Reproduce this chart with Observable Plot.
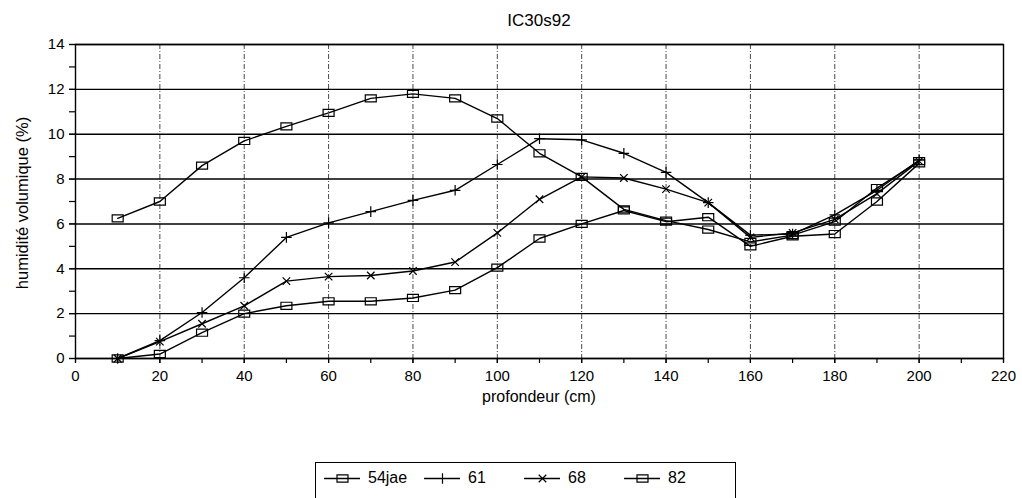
<!DOCTYPE html>
<html><head><meta charset="utf-8">
<script src="https://cdn.jsdelivr.net/npm/d3@7"></script>
<script src="https://cdn.jsdelivr.net/npm/@observablehq/plot@0.6"></script>
<style>
body{margin:0;background:#fff;font-family:"Liberation Sans",Arial,sans-serif;color:#000;}
#wrap{position:relative;width:1022px;height:498px;overflow:hidden;}
#title{position:absolute;left:75px;width:928px;top:11px;text-align:center;font-size:17px;}
#xlabel{position:absolute;left:75px;width:928px;top:388px;text-align:center;font-size:16px;}
#ylabel{position:absolute;left:22px;top:203px;transform:translate(-50%,-50%) rotate(-90deg);white-space:nowrap;font-size:16.5px;}
#chart{position:absolute;left:0;top:0;}
#chart svg text{font-size:15px !important;}
#legend{position:absolute;left:315px;top:462px;width:421px;height:60px;border:1.5px solid #000;box-sizing:border-box;}
.item{position:absolute;top:5px;display:flex;align-items:center;font-size:16px;}
.item svg{margin-right:8px;}
</style>
</head><body>
<div id="wrap">
  <div id="chart"></div>
  <div id="title"></div>
  <div id="xlabel"></div>
  <div id="ylabel"></div>
  <div id="legend"></div>
</div>
<script>
const chartTitle = "IC30s92";
const xLabel = "profondeur (cm)";
const yLabel = "humidité volumique (%)";
const seriesNames = ["54jae", "61", "68", "82"];
const seriesSymbols = ["rect", "plus", "times", "rect"];
const depth = [10,20,30,40,50,60,70,80,90,100,110,120,130,140,150,160,170,180,190,200];
const s54jae = [6.25,7.0,8.6,9.7,10.35,10.95,11.6,11.8,11.6,10.7,9.15,8.1,6.65,6.15,5.75,5.2,5.5,6.1,7.6,8.8];
const s61    = [0,0.8,2.05,3.6,5.4,6.05,6.55,7.05,7.5,8.65,9.8,9.75,9.15,8.3,6.95,5.5,5.55,6.4,7.5,8.85];
const s68    = [0,0.75,1.55,2.35,3.45,3.65,3.7,3.9,4.3,5.6,7.1,8.1,8.05,7.55,6.95,5.4,5.6,6.2,7.35,8.8];
const s82    = [0,0.2,1.15,2.0,2.35,2.55,2.55,2.7,3.05,4.05,5.35,6.0,6.6,6.1,6.3,5.0,5.45,5.55,7.0,8.7];
const xTicks = [0,20,40,60,80,100,120,140,160,180,200,220];
const yTicks = [0,2,4,6,8,10,12,14];

const allValues = [s54jae, s61, s68, s82];
const data = [];
seriesNames.forEach((name, i) => {
  depth.forEach((d, j) => data.push({series: name, depth: d, value: allValues[i][j]}));
});

// wide open rectangle marker (like the original's boxes)
const rectSymbol = {draw(ctx, size) { const s = Math.sqrt(size); ctx.moveTo(-s*0.62, -s*0.4); ctx.lineTo(s*0.62, -s*0.4); ctx.lineTo(s*0.62, s*0.4); ctx.lineTo(-s*0.62, s*0.4); ctx.closePath(); }};
const symOf = s => s === "rect" ? rectSymbol : s;
const rOf = s => s === "rect" ? 5 : 3.5;

const minorY = d3.range(0, 14.5, 1);
const minorX = d3.range(0, 221, 10);
const gridX = xTicks.filter(t => t > 0 && t < 220);

const dotMarks = seriesNames.map((name, i) =>
  Plot.dot(data.filter(d => d.series === name), {x: "depth", y: "value", symbol: symOf(seriesSymbols[i]), stroke: "#000", fill: "none", r: rOf(seriesSymbols[i]), strokeWidth: 1.2})
);

const plot = Plot.plot({
  width: 1022, height: 420,
  marginTop: 44, marginLeft: 75, marginRight: 19, marginBottom: 62,
  style: {fontFamily: '"Liberation Sans", Arial, sans-serif', fontSize: "15px", color: "#000", background: "#fff"},
  x: {domain: [0, 220]},
  y: {domain: [0, 14]},
  marks: [
    Plot.gridY(yTicks, {stroke: "#000", strokeOpacity: 1, strokeWidth: 1.4}),
    Plot.gridX(gridX, {stroke: "#000", strokeOpacity: 0.9, strokeWidth: 0.8, strokeDasharray: "5,2,1,2"}),
    Plot.frame({stroke: "#000", strokeWidth: 1.4}),
    Plot.axisY(minorY, {tickSize: 6, tickFormat: () => "", label: null, strokeWidth: 1.2}),
    Plot.axisY(yTicks, {tickSize: 6, tickPadding: 5, label: null, strokeWidth: 1.2}),
    Plot.axisX(minorX, {tickSize: 5, tickFormat: () => "", label: null, strokeWidth: 1.2}),
    Plot.axisX(xTicks, {tickSize: 5, tickPadding: 7, label: null, strokeWidth: 1.2}),
    Plot.line(data, {x: "depth", y: "value", z: "series", stroke: "#000", strokeWidth: 1.4}),
    ...dotMarks
  ]
});
document.getElementById("chart").appendChild(plot);
document.getElementById("title").textContent = chartTitle;
document.getElementById("xlabel").textContent = xLabel;
document.getElementById("ylabel").textContent = yLabel;

const legend = document.getElementById("legend");
const positions = [8, 108, 208, 308];
seriesNames.forEach((name, i) => {
  const item = document.createElement("div");
  item.className = "item";
  item.style.left = positions[i] + "px";
  const sw = Plot.plot({
    width: 36, height: 20, margin: 0,
    x: {domain: [0, 1], axis: null}, y: {domain: [0, 1], axis: null},
    marks: [
      Plot.line([{x: 0, y: 0.5}, {x: 1, y: 0.5}], {x: "x", y: "y", stroke: "#000", strokeWidth: 1.4}),
      Plot.dot([{x: 0.5, y: 0.5}], {x: "x", y: "y", symbol: symOf(seriesSymbols[i]), stroke: "#000", fill: "none", r: rOf(seriesSymbols[i]), strokeWidth: 1.2})
    ]
  });
  item.appendChild(sw);
  const t = document.createElement("span");
  t.textContent = name;
  item.appendChild(t);
  legend.appendChild(item);
});
</script>
</body></html>
